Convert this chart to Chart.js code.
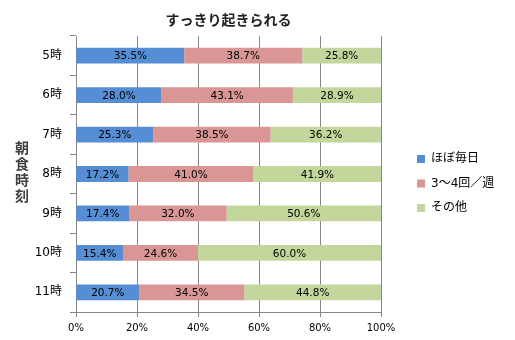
<!DOCTYPE html>
<html>
<head>
<meta charset="utf-8">
<script src="https://cdn.jsdelivr.net/npm/chart.js@4.4.1/dist/chart.umd.min.js"></script>
<style>
  html, body { margin: 0; padding: 0; background: #fff; }
  canvas { display: block; }
</style>
</head>
<body>
<canvas id="chart" width="515" height="340"></canvas>
<script>
// Survey: "wakes up refreshed" by breakfast time (percent of respondents)
const chartTitle = 'すっきり起きられる';
const axisTitle = '朝食時刻';
const categories = ['5時', '6時', '7時', '8時', '9時', '10時', '11時'];
const seriesNames = ['ほぼ毎日', '3〜4回／週', 'その他'];
const daily  = [35.5, 28.0, 25.3, 17.2, 17.4, 15.4, 20.7];
const weekly = [38.7, 43.1, 38.5, 41.0, 32.0, 24.6, 34.5];
const other  = [25.8, 28.9, 36.2, 41.9, 50.6, 60.0, 44.8];
const percentTicks = [0, 20, 40, 60, 80, 100];

const seriesColors = ['#558ED5', '#D99694', '#C3D69B'];
const gridColor = '#868686';
const latinFont = '"DejaVu Sans", "Noto Sans CJK JP", sans-serif';
const cjkFont = '"Noto Sans CJK JP", sans-serif';

// Percentage written in the middle of every bar segment
const barLabels = {
  id: 'barLabels',
  afterDatasetsDraw(chart) {
    const ctx = chart.ctx;
    ctx.save();
    ctx.font = '10.5px ' + latinFont;
    ctx.fillStyle = '#000';
    ctx.textAlign = 'center';
    ctx.textBaseline = 'middle';
    chart.data.datasets.forEach((ds, di) => {
      chart.getDatasetMeta(di).data.forEach((bar, i) => {
        ctx.fillText(ds.data[i].toFixed(1) + '%', (bar.x + bar.base) / 2, bar.y + 1);
      });
    });
    ctx.restore();
  }
};

// Category-axis title written top-to-bottom, one character per line
const stackedAxisTitle = {
  id: 'stackedAxisTitle',
  afterDraw(chart) {
    const ctx = chart.ctx;
    const chars = Array.from(axisTitle);
    const step = 16;
    const mid = (chart.chartArea.top + chart.chartArea.bottom) / 2 - 2;
    const y0 = mid - step * (chars.length - 1) / 2;
    ctx.save();
    ctx.font = 'bold 14px ' + cjkFont;
    ctx.fillStyle = '#404040';
    ctx.textAlign = 'center';
    ctx.textBaseline = 'middle';
    chars.forEach((ch, i) => ctx.fillText(ch, 22, y0 + i * step));
    ctx.restore();
  }
};

// Legend sits a little away from the plot, vertically near its middle
const legendPlacement = {
  id: 'legendPlacement',
  afterLayout(chart) {
    const lg = chart.legend;
    lg.left = 404.5;
    lg.width = 110;
    lg.right = lg.left + lg.width;
    lg.top = 140.5;
    lg.height = 120;
    lg.bottom = lg.top + lg.height;
  }
};

new Chart(document.getElementById('chart'), {
  type: 'bar',
  data: {
    labels: categories,
    datasets: [daily, weekly, other].map((values, i) => ({
      label: seriesNames[i],
      data: values,
      backgroundColor: seriesColors[i],
      borderWidth: 0,
      barPercentage: 0.4,
      categoryPercentage: 1
    }))
  },
  options: {
    indexAxis: 'y',
    responsive: false,
    animation: false,
    layout: { padding: { top: 0, right: 84, bottom: 0, left: 0 } },
    scales: {
      x: {
        stacked: true,
        min: 0,
        max: 100,
        afterBuildTicks(scale) { scale.ticks = percentTicks.map(v => ({ value: v })); },
        afterFit(scale) { scale.height = 28; },
        ticks: {
          callback: v => v + '%',
          color: '#000',
          padding: 5,
          font: { family: latinFont, size: 10 }
        },
        grid: { color: gridColor, lineWidth: 1, tickLength: 5 },
        border: { color: gridColor }
      },
      y: {
        stacked: true,
        afterFit(scale) { scale.width = 76; },
        ticks: {
          color: '#000',
          padding: 8,
          font: { family: latinFont, size: 12 }
        },
        grid: { drawOnChartArea: false, color: gridColor, tickLength: 6 },
        border: { color: gridColor }
      }
    },
    plugins: {
      title: {
        display: true,
        text: chartTitle,
        fullSize: false,
        color: '#222',
        font: { family: cjkFont, size: 14, weight: 'bold', lineHeight: 1.2 },
        padding: { top: 11.5, bottom: 7.7 }
      },
      legend: {
        position: 'right',
        align: 'start',
        maxWidth: 50,
        labels: {
          boxWidth: 8,
          boxHeight: 8,
          padding: 12.5,
          color: '#000',
          font: { family: latinFont, size: 12 }
        }
      },
      tooltip: { enabled: false }
    }
  },
  plugins: [barLabels, stackedAxisTitle, legendPlacement]
});
</script>
</body>
</html>
